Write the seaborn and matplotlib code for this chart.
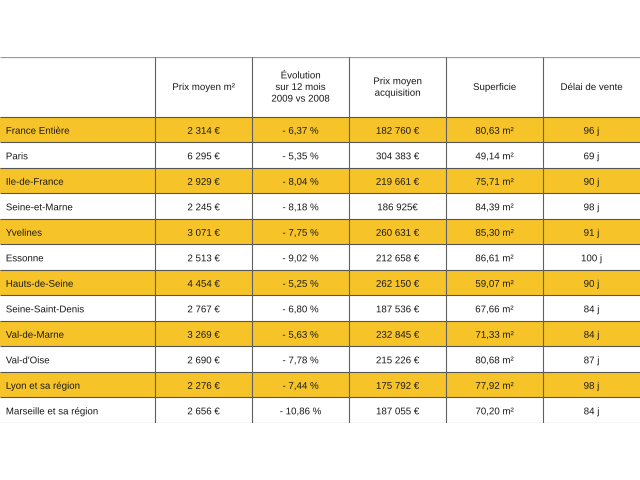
import numpy as np
import seaborn as sns
import matplotlib.pyplot as plt
import matplotlib.patheffects as pe
from matplotlib.colors import ListedColormap

regions = ['France Entière', 'Paris', 'Ile-de-France', 'Seine-et-Marne', 'Yvelines',
           'Essonne', 'Hauts-de-Seine', 'Seine-Saint-Denis', 'Val-de-Marne', "Val-d'Oise",
           'Lyon et sa région', 'Marseille et sa région']
headers = ['Prix moyen m²', 'Évolution\nsur 12 mois\n2009 vs 2008', 'Prix moyen\nacquisition',
           'Superficie', 'Délai de vente']
prix_m2 = ['2 314 €', '6 295 €', '2 929 €', '2 245 €', '3 071 €', '2 513 €', '4 454 €',
           '2 767 €', '3 269 €', '2 690 €', '2 276 €', '2 656 €']
evolution = ['- 6,37 %', '- 5,35 %', '- 8,04 %', '- 8,18 %', '- 7,75 %', '- 9,02 %', '- 5,25 %',
             '- 6,80 %', '- 5,63 %', '- 7,78 %', '- 7,44 %', '- 10,86 %']
prix_acq = ['182 760 €', '304 383 €', '219 661 €', '186 925€', '260 631 €', '212 658 €',
            '262 150 €', '187 536 €', '232 845 €', '215 226 €', '175 792 €', '187 055 €']
superficie = ['80,63 m²', '49,14 m²', '75,71 m²', '84,39 m²', '85,30 m²', '86,61 m²',
              '59,07 m²', '67,66 m²', '71,33 m²', '80,68 m²', '77,92 m²', '70,20 m²']
delai = ['96 j', '69 j', '90 j', '98 j', '91 j', '100 j', '90 j', '84 j', '84 j', '87 j',
         '98 j', '84 j']

columns = [prix_m2, evolution, prix_acq, superficie, delai]
yellow = '#f6c428'

# fond des lignes : une ligne sur deux en jaune (33 sous-colonnes pour les largeurs)
n_rows = len(regions)
n_sub = 33
highlight = np.array([[1 if i % 2 == 0 else 0] * n_sub for i in range(n_rows)])

fig = plt.figure(figsize=(6.4, 4.8), dpi=100)
ax = fig.add_axes([0, 1 - 423 / 480, 1, 366 / 480])
sns.heatmap(highlight, cmap=ListedColormap(['white', yellow]), cbar=False,
            xticklabels=False, yticklabels=False, ax=ax)

header_h = 2.35
ax.set_ylim(n_rows, -header_h)
ax.set_xlim(0, n_sub)
ax.axis('off')

# lignes du tableau
ax.hlines([-header_h], 0, n_sub, color='#9a9a9a', lw=0.9)
ax.hlines(range(0, n_rows + 1), 0, n_sub, color='#555555', lw=0.8)
bounds = [8, 13, 18, 23, 28]
ax.vlines(bounds, -header_h, n_rows, color='#606060', lw=0.8)

centers = [b + 2.5 for b in bounds]
# texte dessiné en contours : même ligne de base pour toutes les cellules
font = dict(family='Liberation Sans', size=7.0, color='#1a1a1a',
            path_effects=[pe.Normal()])

for c, h in zip(centers, headers):
    ax.text(c, -header_h / 2, h, ha='center', va='center', linespacing=1.2, **font)

base = 0.66
for i, name in enumerate(regions):
    ax.text(0.3, i + base, name, ha='left', va='baseline', **font)
    for c, col in zip(centers, columns):
        ax.text(c, i + base, col[i], ha='center', va='baseline', **font)

fig.savefig('out.png', dpi=100)
